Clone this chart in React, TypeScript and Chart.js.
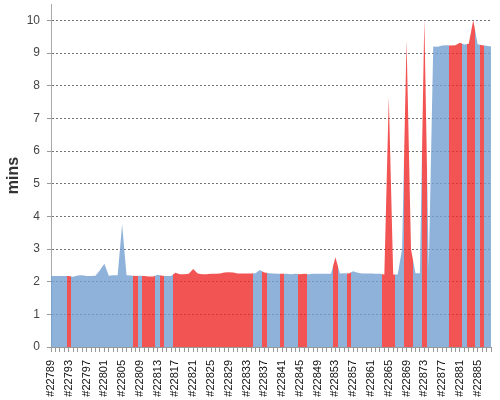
import React, { useEffect, useRef } from 'react';
import { Chart, registerables } from 'chart.js';

// Build numbers on the category axis
const FIRST_BUILD = 22789;

// Build duration in minutes, one per build (#22789 .. #22888)
const durations = [
  2.17, 2.17, 2.17, 2.17, 2.17, 2.15, 2.19, 2.2, 2.17, 2.17,
  2.18, 2.35, 2.55, 2.18, 2.2, 2.2, 3.76, 2.2, 2.19, 2.17,
  2.18, 2.17, 2.16, 2.16, 2.21, 2.18, 2.17, 2.17, 2.27, 2.23,
  2.23, 2.24, 2.39, 2.25, 2.23, 2.23, 2.24, 2.24, 2.25, 2.28,
  2.29, 2.28, 2.25, 2.25, 2.25, 2.25, 2.26, 2.36, 2.28, 2.26,
  2.25, 2.24, 2.24, 2.24, 2.23, 2.24, 2.23, 2.24, 2.23, 2.24,
  2.24, 2.24, 2.24, 2.24, 2.75, 2.25, 2.26, 2.25, 2.32, 2.27,
  2.25, 2.25, 2.25, 2.24, 2.24, 2.22, 7.65, 2.22, 2.22, 3.0,
  9.4, 3.0, 2.26, 2.26, 10.05, 2.4, 9.2, 9.19, 9.23, 9.24,
  9.23, 9.24, 9.31, 9.26, 9.28, 10.0, 9.27, 9.24, 9.22, 9.2,
];

// Builds whose result was a failure (drawn red); all others succeeded (blue)
const failedBuilds = [
  22793, 22808, 22810, 22811, 22812, 22814,
  22817, 22818, 22819, 22820, 22821, 22822, 22823, 22824, 22825,
  22826, 22827, 22828, 22829, 22830, 22831, 22832, 22833, 22834,
  22837, 22841, 22845, 22846, 22853, 22856,
  22864, 22865, 22866, 22869, 22870, 22873,
  22879, 22880, 22881, 22883, 22884, 22886,
];

const builds = durations.map((_, i) => FIRST_BUILD + i);
const buildLabels = builds.map((b) => '#' + b);
const results = builds.map((b) => (failedBuilds.includes(b) ? 'FAILURE' : 'SUCCESS'));

const yTicks = [0, 1, 2, 3, 4, 5, 6, 7, 8, 9, 10];

const SUCCESS_COLOR = 'rgba(114,159,207,0.8)';
const FAILURE_COLOR = 'rgba(239,41,41,0.8)';

// Each build's area reaches half-way to its neighbours, coloured by its result.
const resultZones = {
  id: 'resultZones',
  beforeDatasetDraw(chart: any, args: any) {
    const ds: any = chart.data.datasets[args.index];
    if (!ds || !ds.result) return;
    const xs = chart.scales.x;
    const { top, bottom, left, right } = chart.chartArea;
    const ctx = chart.ctx;
    ctx.save();
    ctx.beginPath();
    results.forEach((r, i) => {
      if (r !== ds.result) return;
      const x0 = Math.max(left, Math.round(xs.getPixelForValue(i - 0.5)));
      const x1 = Math.min(right, Math.round(xs.getPixelForValue(i + 0.5)));
      if (x1 > x0) ctx.rect(x0, top - 2, x1 - x0, bottom - top + 4);
    });
    ctx.clip();
  },
  afterDatasetDraw(chart: any, args: any) {
    const ds: any = chart.data.datasets[args.index];
    if (!ds || !ds.result) return;
    chart.ctx.restore();
  },
};

Chart.register(resultZones, ...registerables);

export default function App() {
  const canvasRef = useRef<HTMLCanvasElement | null>(null);

  useEffect(() => {
    document.body.style.margin = '0';
    const canvas = canvasRef.current;
    if (!canvas) return;
    const font = 'Liberation Sans, Arial, sans-serif';
    const chart = new Chart(canvas, {
      type: 'line',
      data: {
        labels: buildLabels,
        datasets: [
          {
            label: 'FAILURE',
            result: 'FAILURE',
            data: durations,
            backgroundColor: FAILURE_COLOR,
            borderWidth: 0,
            pointRadius: 0,
            pointHoverRadius: 0,
            tension: 0,
            fill: 'origin',
          } as any,
          {
            label: 'SUCCESS',
            result: 'SUCCESS',
            data: durations,
            backgroundColor: SUCCESS_COLOR,
            borderWidth: 0,
            pointRadius: 0,
            pointHoverRadius: 0,
            tension: 0,
            fill: 'origin',
          } as any,
        ],
      },
      options: {
        animation: false,
        responsive: true,
        maintainAspectRatio: false,
        layout: { padding: { top: 4, right: 9, bottom: 0, left: 0 } },
        plugins: {
          legend: { display: false },
          tooltip: { enabled: false },
        },
        scales: {
          x: {
            afterFit: (s: any) => {
              s.height = 53;
              s.paddingLeft = 0;
              s.paddingRight = 0;
            },
            ticks: {
              autoSkip: false,
              minRotation: 90,
              maxRotation: 90,
              padding: 8,
              color: '#111',
              font: { family: font, size: 11 },
              callback: function (this: any, value: any, index: number) {
                return index % 4 === 0 ? this.getLabelForValue(value) : '';
              },
            },
            grid: {
              drawOnChartArea: false,
              drawTicks: true,
              tickLength: 5,
              tickColor: '#999',
              color: '#999',
            },
            border: { color: '#999' },
          },
          y: {
            min: 0,
            max: 10.5,
            afterFit: (s: any) => {
              s.width = 51;
              s.paddingTop = 0;
              s.paddingBottom = 0;
            },
            afterBuildTicks: (s: any) => {
              s.ticks = yTicks.map((v) => ({ value: v }));
            },
            ticks: {
              stepSize: 1,
              padding: 7,
              color: '#444',
              font: { family: font, size: 12 },
            },
            grid: {
              color: (c: any) => (c.tick && c.tick.value === 0 ? 'rgba(0,0,0,0)' : 'rgba(0,0,0,0.55)'),
              lineWidth: 1,
              drawTicks: true,
              tickLength: 4,
              tickColor: '#999',
            },
            border: { color: '#aaa', dash: [2, 2] },
            title: {
              display: true,
              text: 'mins',
              color: '#333',
              font: { family: font, size: 16, weight: 'bold' },
              padding: { top: 4, bottom: 0 },
            },
          },
        },
      } as any,
    });
    return () => chart.destroy();
  }, []);

  return (
    <div style={{ position: 'relative', width: 500, height: 400 }}>
      <canvas ref={canvasRef} />
    </div>
  );
}
